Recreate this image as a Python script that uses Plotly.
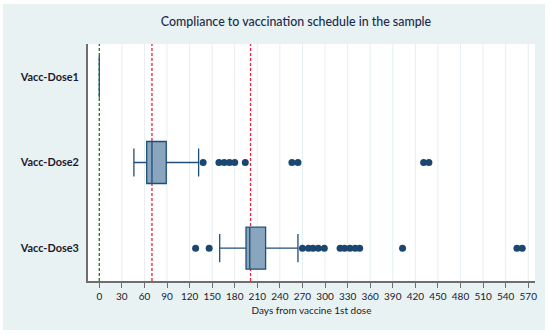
import plotly.graph_objects as go

# ---- data ----
doses = ["Vacc-Dose1", "Vacc-Dose2", "Vacc-Dose3"]
q1 = [0, 63, 195]
median = [0, 70, 200]
q3 = [0, 89, 221]
lowerfence = [0, 46, 160]
upperfence = [0, 132, 264]

outliers_dose2 = [138, 159, 166, 173, 180, 194, 256, 264, 431, 438]
outliers_dose3 = [128, 146, 270, 278, 284, 291, 299, 320, 326, 333, 340, 346, 403, 555, 562]

ref_green = [0]
ref_red = [70, 201]

tick_vals = list(range(0, 571, 30))

title_text = "Compliance to vaccination schedule in the sample"
x_title = "Days from vaccine 1st dose"

# ---- style ----
FONT = "Lato"
BOX_LINE = "#1f4e79"
BOX_FILL = "#8aa6be"
DOT = "#1a4670"
PAPER = "#e9f2f3"
GRID = "#e6eff1"

W, H = 550, 334
L, R, T, B = 88, 15, 44, 53
PW, PH = W - L - R, H - T - B

fig = go.Figure()

fig.add_trace(go.Box(
    y=doses, q1=q1, median=median, q3=q3,
    lowerfence=lowerfence, upperfence=upperfence,
    orientation="h", boxpoints=False,
    width=0.49, whiskerwidth=0.67,
    fillcolor=BOX_FILL, line=dict(color=BOX_LINE, width=1.3),
    showlegend=False, hoverinfo="skip",
))

fig.add_trace(go.Scatter(
    x=outliers_dose2, y=[doses[1]] * len(outliers_dose2), mode="markers",
    marker=dict(color=DOT, size=7), showlegend=False,
))
fig.add_trace(go.Scatter(
    x=outliers_dose3, y=[doses[2]] * len(outliers_dose3), mode="markers",
    marker=dict(color=DOT, size=7), showlegend=False,
))

shapes = [
    # outer light background (with thin white border)
    dict(type="rect", xref="paper", yref="paper",
         x0=(3 - L) / PW, x1=(545 - L) / PW, y0=-(330 - (H - B)) / PH, y1=1 + (T - 4) / PH,
         fillcolor=PAPER, line=dict(width=0), layer="below"),
    # white plot area
    dict(type="rect", xref="paper", yref="paper", x0=0, x1=1, y0=0, y1=1,
         fillcolor="white", line=dict(width=0), layer="below"),
]
# vertical gridlines (below everything)
for v in tick_vals:
    if v in ref_green:
        continue
    shapes.append(dict(type="line", xref="x", yref="paper", x0=v, x1=v, y0=0, y1=1,
                       line=dict(color=GRID, width=1), layer="below"))
# reference lines (below boxes)
for v in ref_green:
    shapes.append(dict(type="line", xref="x", yref="paper", x0=v, x1=v, y0=0, y1=1,
                       line=dict(color="#0f7f1a", width=1.3, dash="3px,2px"), layer="below"))
for v in ref_red:
    shapes.append(dict(type="line", xref="x", yref="paper", x0=v, x1=v, y0=0, y1=1,
                       line=dict(color="#e8203a", width=1.3, dash="3px,2px"), layer="below"))

fig.update_layout(
    width=W, height=H,
    margin=dict(l=L, r=R, t=T, b=B, autoexpand=False),
    paper_bgcolor="white", plot_bgcolor="white",
    shapes=shapes,
    font=dict(family=FONT, color="#1a1a2e"),
    title=dict(text=title_text, x=296 / W, xanchor="center", xref="container",
               y=1 - 22 / H, yanchor="middle", yref="container",
               font=dict(family=FONT, size=12.4, color="#1a2a4a", weight=500)),
)

fig.update_xaxes(
    range=[-15, 579], tickvals=tick_vals, ticktext=[str(v) for v in tick_vals],
    automargin=False,
    showgrid=False, zeroline=False,
    showline=True, linecolor="#6e6e6e", linewidth=1.5,
    ticks="outside", ticklen=5, tickcolor="#6e6e6e", tickwidth=1,
    tickfont=dict(family=FONT, size=10, color="#1a1a2e"),
    title=dict(text=x_title, font=dict(family=FONT, size=10, color="#1a1a2e"), standoff=6),
)
fig.update_yaxes(
    automargin=False,
    categoryorder="array", categoryarray=doses, autorange="reversed",
    showgrid=False, zeroline=False,
    showline=True, linecolor="#6e6e6e", linewidth=2,
    ticks="", ticklabelstandoff=5,
    tickfont=dict(family=FONT, size=10.9, color="#1a1a2e", weight=700),
)

fig.write_html("out.html", config={"displayModeBar": False},
               post_script="document.body.style.margin='0';")
